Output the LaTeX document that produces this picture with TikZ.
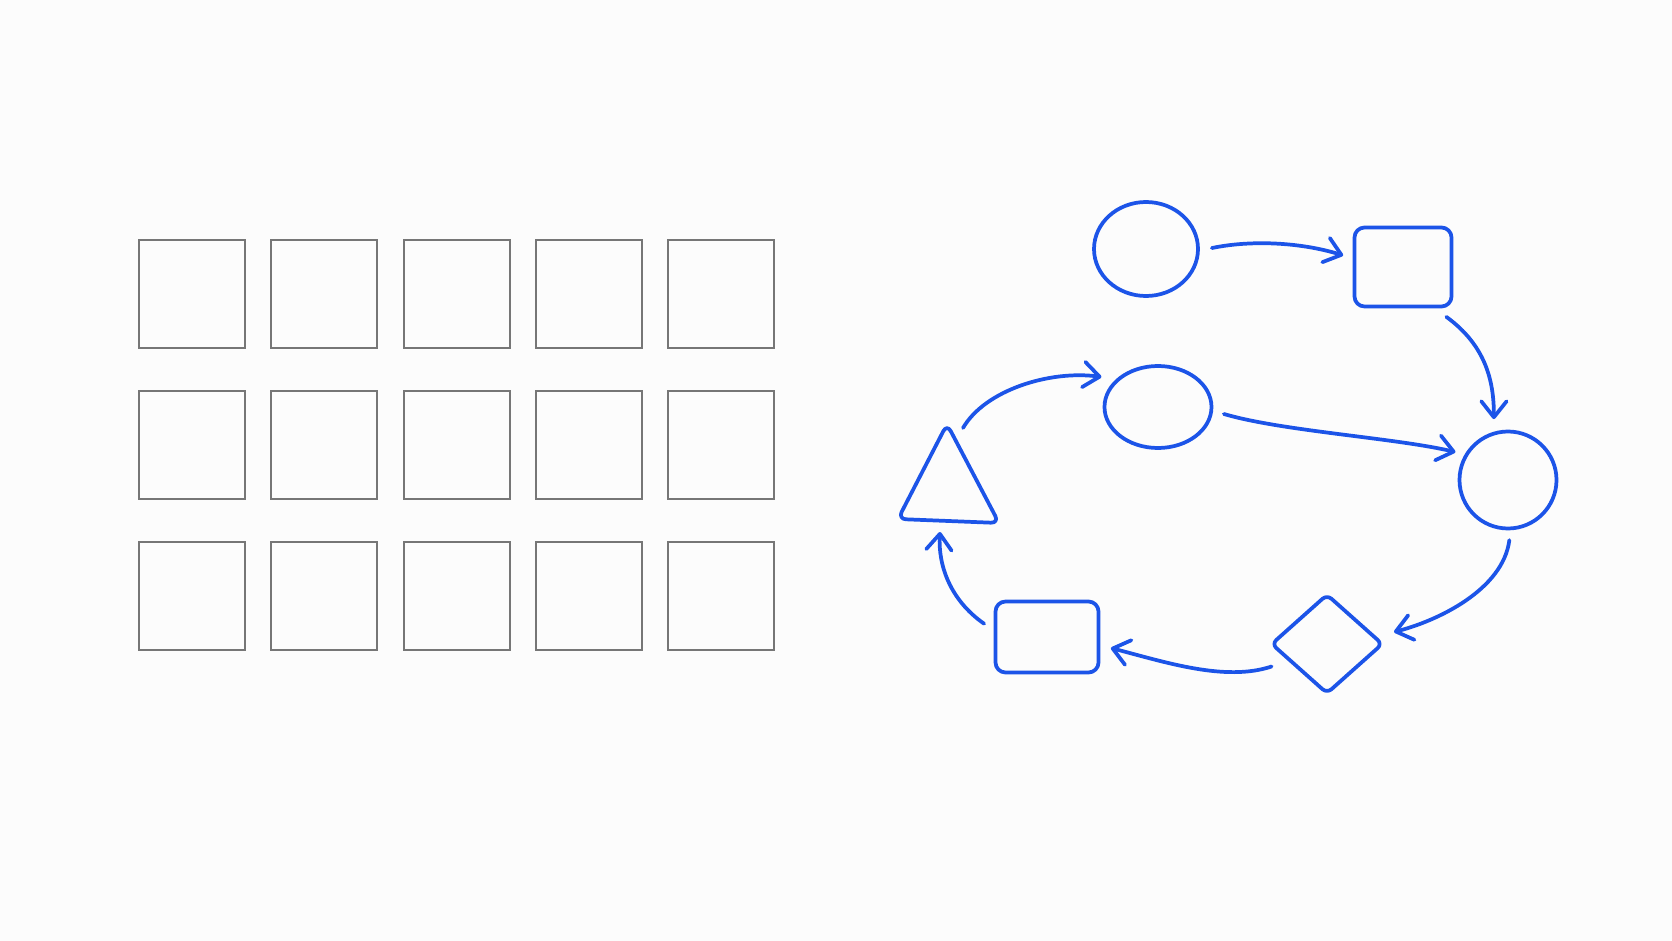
\documentclass[tikz,border=0pt]{standalone}
\usetikzlibrary{shapes.geometric,arrows.meta}
\newlength\upx \setlength\upx{0.75pt}
\definecolor{inkblue}{RGB}{28,84,232}
\definecolor{gridgray}{RGB}{118,118,118}
\definecolor{paper}{RGB}{252,252,252}
\begin{document}
\begin{tikzpicture}[x=0.75pt,y=-0.75pt,
  sq/.style={draw=gridgray, line width=1.5pt, minimum width=106\upx, minimum height=108\upx, inner sep=0},
  bl/.style={draw=inkblue, line width=2.8pt, inner sep=0, line join=round},
  conn/.style={draw=inkblue, line width=2.8pt, line cap=round, -{Straight Barb[length=12pt,width=19pt,round]}}]
\fill[paper] (0,0) rectangle (1672,941);
\useasboundingbox (0,0) rectangle (1672,941);
% grid
\foreach \i in {0,...,4} \foreach \j in {0,1,2}
  \node[sq] (s\i\j) at ({192+132.25*\i},{294+151.2*\j}) {};
% flow nodes
\node[bl, ellipse, minimum width=104\upx, minimum height=94\upx] (c1) at (1146,249) {};
\node[bl, rectangle, rounded corners=10\upx, minimum width=97\upx, minimum height=79\upx] (r1) at (1403,267) {};
\node[bl, ellipse, minimum width=107\upx, minimum height=82\upx] (e2) at (1158,407) {};
\node[bl, circle, minimum size=97\upx] (cR) at (1508,480) {};
\node[bl, diamond, minimum width=112\upx, minimum height=100\upx, rounded corners=6\upx] (d) at (1327,644) {};
\node[bl, rectangle, rounded corners=10\upx, minimum width=103\upx, minimum height=71\upx] (r2) at (1047,637) {};
% triangle
\draw[inkblue, line width=2.8pt, rounded corners=8\upx, line join=round] (947,424) -- (999,523) -- (898,519) -- cycle;
\coordinate (tritop) at (963,428);
\coordinate (tribase) at (940,532);
% connectors (ends offset from the node borders)
\draw[conn] ([shift={(12,0)}]c1.1) .. controls (1250,240) and (1300,242) .. ([shift={(-9.5,-1.8)}]r1.169);
\draw[conn] ([shift={(7.4,8.5)}]r1.-49) .. controls (1485,345) and (1494,380) .. ([shift={(-2.8,-11.8)}]cR.103);
\draw[conn] ([shift={(11,1.2)}]e2.-6) .. controls (1281,431) and (1396,438) .. ([shift={(-8.1,-4.3)}]cR.152);
\draw[conn] ([shift={(-0.4,9.8)}]cR.-88) .. controls (1503,590) and (1437,621) .. ([shift={(16.1,-5.8)}]d.7);
\draw[conn] ([shift={(-18.5,3.7)}]d.207) .. controls (1225,682) and (1165,662) .. ([shift={(10.5,2.6)}]r2.-9);
\draw[conn] ([shift={(-9.5,-6.7)}]r2.173) .. controls (950,600) and (938,565) .. (tribase);
\draw[conn] (tritop) .. controls (985,390) and (1050,370) .. ([shift={(-15.5,-1.3)}]e2.145);
\end{tikzpicture}
\end{document}
